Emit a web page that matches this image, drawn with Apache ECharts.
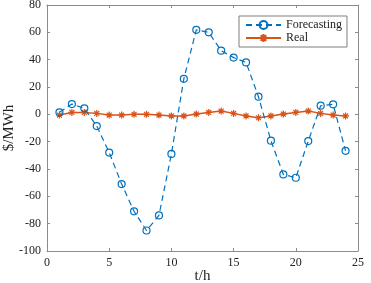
<!DOCTYPE html>
<html>
<head>
<meta charset="utf-8">
<script src="https://cdn.jsdelivr.net/npm/echarts@6/dist/echarts.min.js"></script>
<style>
html, body { margin: 0; padding: 0; background: #fff; }
#chart { width: 371px; height: 283px; }
</style>
</head>
<body>
<div id="chart"></div>
<script>
var hours = [1, 2, 3, 4, 5, 6, 7, 8, 9, 10, 11, 12, 13, 14, 15, 16, 17, 18, 19, 20, 21, 22, 23, 24];
var forecasting = [1.5, 7.5, 4.4, -8.6, -28, -51, -71, -85, -74, -29, 26, 61.8, 60, 46.6, 41.5, 38, 12.9, -19.3, -44, -46.4, -19.6, 6.3, 7.3, -26.7];
var real = [-0.5, 1.4, 1.4, 0.7, -0.5, -0.5, 0, 0, -0.5, -1.2, -1.2, 0.2, 1.4, 2.4, 0.7, -1.2, -2.5, -1.2, 0.2, 1.4, 2.4, 0.7, -0.5, -1.2];
var xTicks = [0, 5, 10, 15, 20, 25];
var yTicks = [-100, -80, -60, -40, -20, 0, 20, 40, 60, 80];

var font = '"Liberation Serif", "DejaVu Serif", serif';
var frame = '#8c8c8c';
var blue = '#0072BD';
var orange = '#D95319';

function pairs(vals) {
	return hours.map(function (h, i) { return [h, vals[i]]; });
}

// asterisk marker, stroked only
var star = 'path://M0,5L10,5M5,0L5,10M1.5,1.5L8.5,8.5M1.5,8.5L8.5,1.5';

function xAx(pos, labels) {
	return {
		type: 'value', position: pos,
		min: xTicks[0], max: xTicks[xTicks.length - 1], interval: 5,
		name: labels ? 't/h' : '', nameLocation: 'middle', nameGap: 18, nameMoveOverlap: false,
		nameTextStyle: { fontFamily: font, fontSize: 15, color: '#222' },
		axisLine: { show: true, onZero: false, lineStyle: { color: frame, width: 1 } },
		axisTick: { show: true, inside: true, length: 3, lineStyle: { color: frame } },
		axisLabel: { show: labels, margin: 6, fontFamily: font, fontSize: 12, color: '#222' },
		splitLine: { show: false }
	};
}
function yAx(pos, labels) {
	return {
		type: 'value', position: pos,
		min: yTicks[0], max: yTicks[yTicks.length - 1], interval: 20,
		name: labels ? '$/MWh' : '', nameLocation: 'middle', nameGap: 30, nameMoveOverlap: false,
		nameTextStyle: { fontFamily: font, fontSize: 15, color: '#222' },
		axisLine: { show: true, onZero: false, lineStyle: { color: frame, width: 1 } },
		axisTick: { show: true, inside: true, length: 3, lineStyle: { color: frame } },
		axisLabel: { show: labels, margin: 6, fontFamily: font, fontSize: 12, color: '#222' },
		splitLine: { show: false }
	};
}

var myChart = echarts.init(document.getElementById('chart'));
var option = {
	animation: false,
	backgroundColor: '#fff',
	grid: { left: 47, right: 13, top: 5, bottom: 32, containLabel: false, outerBoundsMode: 'none' },
	legend: {
		orient: 'vertical', left: 239, top: 16,
		itemGap: 1, itemWidth: 35, itemHeight: 10,
		padding: [3, 5, 3, 6],
		borderColor: '#7f7f7f', borderWidth: 1, backgroundColor: '#fff',
		textStyle: { fontFamily: font, fontSize: 12, color: '#222' },
		data: ['Forecasting', 'Real']
	},
	xAxis: [xAx('bottom', true), xAx('top', false)],
	yAxis: [yAx('left', true), yAx('right', false)],
	series: [{
		name: 'Forecasting', type: 'line',
		data: pairs(forecasting),
		symbol: 'circle', symbolSize: 7,
		lineStyle: { color: blue, width: 1.2, type: [6, 4] },
		itemStyle: { color: 'rgba(0,0,0,0)', borderColor: blue, borderWidth: 1.2 },
		z: 3
	}, {
		name: 'Real', type: 'line',
		data: pairs(real),
		symbol: star, symbolSize: 7,
		lineStyle: { color: orange, width: 1.5 },
		itemStyle: { color: 'rgba(0,0,0,0)', borderColor: orange, borderWidth: 1.2 },
		z: 2
	}]
};
myChart.setOption(option);
</script>
</body>
</html>
